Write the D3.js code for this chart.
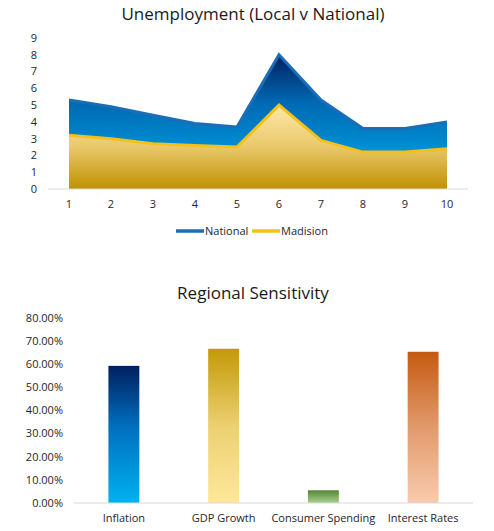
<!DOCTYPE html>
<html lang="en">
<head>
    <meta charset="UTF-8">
    <title>Unemployment and Regional Sensitivity</title>
    <script src="https://d3js.org/d3.v7.min.js"></script>
    <style>
        body {
            margin: 0;
            padding: 0;
            background: #fff;
        }
        svg {
            display: block;
            font-family: "Open Sans", "Liberation Sans", sans-serif;
        }
        .tick-label {
            font-size: 11px;
            fill: #262626;
        }
        .title {
            font-size: 17px;
            fill: #1a1a1a;
        }
    </style>
</head>
<body>
    <svg width="494" height="531"></svg>

    <script>
        // unemployment chart
        const periods = ["1", "2", "3", "4", "5", "6", "7", "8", "9", "10"];
        const national = [5.3, 4.9, 4.4, 3.9, 3.7, 8.0, 5.3, 3.6, 3.6, 4.0];
        const madision = [3.2, 3.0, 2.7, 2.6, 2.5, 5.0, 2.9, 2.2, 2.2, 2.4];
        const unempTicks = [0, 1, 2, 3, 4, 5, 6, 7, 8, 9];

        // sensitivity chart
        const factors = ["Inflation", "GDP Growth", "Consumer Spending", "Interest Rates"];
        const sensitivity = [0.593, 0.667, 0.055, 0.654];
        const sensTicks = [0, 0.1, 0.2, 0.3, 0.4, 0.5, 0.6, 0.7, 0.8];

        const svg = d3.select("svg");
        const defs = svg.append("defs");

        function vGradient(id, stops) {
            const g = defs.append("linearGradient")
                .attr("id", id)
                .attr("x1", 0).attr("y1", 0)
                .attr("x2", 0).attr("y2", 1);
            stops.forEach(s => {
                g.append("stop").attr("offset", s[0]).attr("stop-color", s[1]);
            });
        }

        vGradient("gNational", [[0, "#012060"], [0.35, "#0068b2"], [1, "#00b0f0"]]);
        vGradient("gMadision", [[0, "#fde9a8"], [0.5, "#e9c86a"], [1, "#c09100"]]);
        vGradient("bar0", [[0, "#00205f"], [0.45, "#0070bf"], [1, "#00b2f0"]]);
        vGradient("bar1", [[0, "#c39a08"], [0.5, "#ecd070"], [1, "#ffe79b"]]);
        vGradient("bar2", [[0, "#558436"], [1, "#a9d18e"]]);
        vGradient("bar3", [[0, "#c55a11"], [0.5, "#e29a6c"], [1, "#f8cbad"]]);

        // ---------- top: area chart ----------
        const x1 = d3.scaleBand().domain(periods).range([48, 468]);
        const y1 = d3.scaleLinear().domain([0, 9]).range([189, 38]);
        const cx = d => x1(d) + x1.bandwidth() / 2;

        svg.append("text")
            .attr("class", "title")
            .attr("x", 253).attr("y", 20)
            .attr("text-anchor", "middle")
            .text("Unemployment (Local v National)");

        svg.append("g").selectAll("text")
            .data(unempTicks)
            .join("text")
            .attr("class", "tick-label")
            .attr("x", 37)
            .attr("y", d => y1(d))
            .attr("dy", "0.35em")
            .attr("text-anchor", "end")
            .text(d => d);

        svg.append("g").selectAll("text")
            .data(periods)
            .join("text")
            .attr("class", "tick-label")
            .attr("x", d => cx(d))
            .attr("y", 204)
            .attr("dy", "0.35em")
            .attr("text-anchor", "middle")
            .text(d => d);

        const area = d3.area()
            .x((d, i) => cx(periods[i]))
            .y0(y1(0))
            .y1(d => y1(d));
        const line = d3.line()
            .x((d, i) => cx(periods[i]))
            .y(d => y1(d));

        svg.append("path").datum(national)
            .attr("d", area)
            .attr("fill", "url(#gNational)");
        svg.append("path").datum(national)
            .attr("d", line)
            .attr("fill", "none")
            .attr("stroke", "#1b6db6")
            .attr("stroke-width", 3);

        svg.append("path").datum(madision)
            .attr("d", area)
            .attr("fill", "url(#gMadision)");
        svg.append("path").datum(madision)
            .attr("d", line)
            .attr("fill", "none")
            .attr("stroke", "#f4c01c")
            .attr("stroke-width", 3);

        svg.append("line")
            .attr("x1", 48).attr("x2", 468)
            .attr("y1", y1(0)).attr("y2", y1(0))
            .attr("stroke", "#d9d9d9");

        // legend
        const legend = [
            { name: "National", color: "#1b6db6", x: 176 },
            { name: "Madision", color: "#f4c01c", x: 252 }
        ];
        const lg = svg.append("g").selectAll("g")
            .data(legend)
            .join("g")
            .attr("transform", d => `translate(${d.x},231)`);
        lg.append("line")
            .attr("x1", 0).attr("x2", 28)
            .attr("stroke", d => d.color)
            .attr("stroke-width", 3.5);
        lg.append("text")
            .attr("class", "tick-label")
            .attr("x", 29)
            .attr("dy", "0.35em")
            .text(d => d.name);

        // ---------- bottom: bar chart ----------
        const x2 = d3.scaleBand().domain(factors).range([74, 473])
            .paddingInner(0.69).paddingOuter(0.345);
        const y2 = d3.scaleLinear().domain([0, 0.8]).range([503, 318]);
        const pct = d3.format(".2%");

        svg.append("text")
            .attr("class", "title")
            .attr("x", 253).attr("y", 299)
            .attr("text-anchor", "middle")
            .text("Regional Sensitivity");

        svg.append("g").selectAll("text")
            .data(sensTicks)
            .join("text")
            .attr("class", "tick-label")
            .attr("x", 63)
            .attr("y", d => y2(d))
            .attr("dy", "0.35em")
            .attr("text-anchor", "end")
            .text(d => pct(d));

        svg.append("g").selectAll("rect")
            .data(sensitivity)
            .join("rect")
            .attr("x", (d, i) => x2(factors[i]))
            .attr("y", d => y2(d))
            .attr("width", x2.bandwidth())
            .attr("height", d => y2(0) - y2(d))
            .attr("fill", (d, i) => `url(#bar${i})`);

        svg.append("line")
            .attr("x1", 74).attr("x2", 473)
            .attr("y1", y2(0)).attr("y2", y2(0))
            .attr("stroke", "#d9d9d9");

        svg.append("g").selectAll("text")
            .data(factors)
            .join("text")
            .attr("class", "tick-label")
            .attr("x", d => x2(d) + x2.bandwidth() / 2)
            .attr("y", 518)
            .attr("dy", "0.35em")
            .attr("text-anchor", "middle")
            .text(d => d);
    </script>
</body>
</html>
